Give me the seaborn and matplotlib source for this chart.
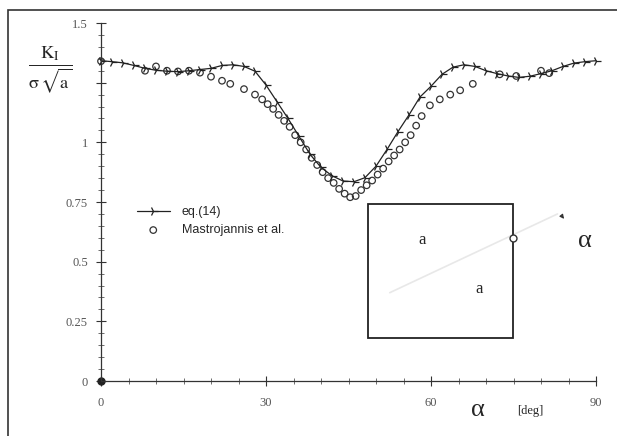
import numpy as np
import pandas as pd
import seaborn as sns
import matplotlib.pyplot as plt
from matplotlib.patches import Rectangle
from matplotlib.ticker import MultipleLocator, FixedLocator, FixedFormatter

# eq.(14), every 2 degrees
EQ_ALPHA = list(range(0, 92, 2))
EQ_K = [1.342, 1.338, 1.333, 1.322, 1.310, 1.302, 1.298, 1.296, 1.300, 1.305,
        1.310, 1.322, 1.325, 1.318, 1.298, 1.240, 1.170, 1.100, 1.025, 0.950,
        0.895, 0.860, 0.838, 0.835, 0.852, 0.900, 0.970, 1.045, 1.115, 1.190,
        1.235, 1.285, 1.315, 1.325, 1.318, 1.300, 1.288, 1.278, 1.272, 1.277,
        1.288, 1.300, 1.318, 1.332, 1.338, 1.342]

# Mastrojannis et al. (experiment)
EXP_ALPHA = [0, 8, 10, 12, 14, 16, 18, 20, 22, 23.5, 26, 28, 29.3,
             30.3, 31.3, 32.3, 33.3, 34.3, 35.3, 36.3, 37.3, 38.3, 39.3, 40.3,
             41.3, 42.3, 43.3, 44.3, 45.3, 46.3, 47.3, 48.3, 49.3, 50.3, 51.3,
             52.3, 53.3, 54.3, 55.3, 56.3, 57.3, 58.3, 59.8, 61.6, 63.5, 65.3,
             67.6, 72.5, 75.5, 80, 81.5]
EXP_K = [1.34, 1.30, 1.318, 1.30, 1.297, 1.30, 1.292, 1.275, 1.258, 1.245,
         1.223, 1.20, 1.18, 1.16, 1.14, 1.115, 1.09, 1.065, 1.03, 1.00, 0.97,
         0.935, 0.905, 0.875, 0.85, 0.83, 0.805, 0.785, 0.77, 0.775, 0.80,
         0.82, 0.84, 0.865, 0.89, 0.92, 0.945, 0.97, 1.00, 1.03, 1.07, 1.11,
         1.155, 1.18, 1.20, 1.218, 1.245, 1.285, 1.278, 1.30, 1.29]

Y_TICKS = [0, 0.25, 0.5, 0.75, 1, 1.25, 1.5]
Y_LABELS = ["0", "0.25", "0.5", "0.75", "1", "", "1.5"]
X_TICKS = [0, 30, 60, 90]

eq = pd.DataFrame({"alpha": EQ_ALPHA, "K": EQ_K})
exp = pd.DataFrame({"alpha": EXP_ALPHA, "K": EXP_K})

sns.set_style("white")
plt.rcParams["mathtext.fontset"] = "stix"

fig = plt.figure(figsize=(6.17, 4.36), dpi=100)
ax = fig.add_axes([101 / 617, 1 - 381 / 436, 495 / 617, 358 / 436])

sns.lineplot(data=eq, x="alpha", y="K", ax=ax, color="#222222", lw=0.9,
             marker="4", markersize=7, markeredgewidth=0.9,
             markeredgecolor="#222222",
             label="eq.(14)", clip_on=False)
sns.scatterplot(data=exp, x="alpha", y="K", ax=ax, marker="o", s=22,
                facecolor="none", edgecolor="#333333", linewidth=0.9,
                label="Mastrojannis et al.", clip_on=False)

ax.set_xlim(0, 90)
ax.set_ylim(0, 1.5)
ax.xaxis.set_major_locator(FixedLocator(X_TICKS))
ax.xaxis.set_minor_locator(MultipleLocator(5))
ax.yaxis.set_major_locator(FixedLocator(Y_TICKS))
ax.yaxis.set_major_formatter(FixedFormatter(Y_LABELS))
ax.yaxis.set_minor_locator(MultipleLocator(0.05))
ax.tick_params(which="major", direction="inout", length=7, width=0.8,
               color="#333333", labelsize=9, labelcolor="#555555", pad=8)
ax.tick_params(which="minor", direction="inout", length=4, width=0.6,
               color="#555555")
ax.tick_params(axis="y", which="major", pad=6)
ax.tick_params(axis="both", which="both", bottom=True, left=True)
for lab in ax.get_xticklabels() + ax.get_yticklabels():
    lab.set_family("Liberation Serif")
for side in ["top", "right"]:
    ax.spines[side].set_visible(False)
for side in ["left", "bottom"]:
    ax.spines[side].set_color("#333333")
    ax.spines[side].set_linewidth(0.9)
ax.set_xlabel("")
ax.set_ylabel("")
ax.plot([0], [0], "o", color="#222222", ms=5, clip_on=False)

leg = ax.legend(loc="upper left", bbox_to_anchor=(0.05, 0.52), frameon=False,
                handlelength=2.6, handletextpad=1.0, labelspacing=0.5,
                prop={"family": "Liberation Sans", "size": 9})

# inset sketch of the specimen
ax.plot([52.5, 83], [0.37, 0.70], color="#e8e8e8", lw=1.2, zorder=1)
ax.add_patch(Rectangle((48.5, 0.18), 26.4, 0.561, fill=False,
                       edgecolor="#222222", lw=1.3, zorder=3))
ax.plot([74.9], [0.598], "o", ms=5, mfc="white", mec="#333333", mew=1,
        zorder=4, clip_on=False)
ax.text(58.3, 0.59, "a", fontsize=12, family="Liberation Serif",
        ha="center", va="center")
ax.text(68.8, 0.385, "a", fontsize=12, family="Liberation Serif",
        ha="center", va="center")
ax.text(88, 0.585, "α", fontsize=19, family="Liberation Serif",
        ha="center", va="center")
ax.annotate("", xy=(84.5, 0.67), xytext=(83.5, 0.70),
            arrowprops=dict(arrowstyle="-|>", color="#333333", lw=0.8,
                            mutation_scale=6))

# axis titles
fig.text(478 / 617, 1 - 410 / 436, "α", fontsize=19, family="Liberation Serif",
         ha="center", va="center")
fig.text(530 / 617, 1 - 411 / 436, "[deg]", fontsize=9,
         family="Liberation Serif", ha="center", va="center")
fig.text(50 / 617, 1 - 70 / 436,
         r"$\frac{\mathrm{K}_{\mathrm{I}}}{\mathrm{\sigma}\,\sqrt{\mathrm{a}}}$",
         fontsize=19, ha="center", va="center")

# outer frame of the scanned figure
fig.add_artist(Rectangle((8 / 617, -0.1), 1.2, 1 - 10 / 436 + 0.1,
                         transform=fig.transFigure, fill=False,
                         edgecolor="#333333", lw=1.2))

fig.savefig("out.png", dpi=100)
